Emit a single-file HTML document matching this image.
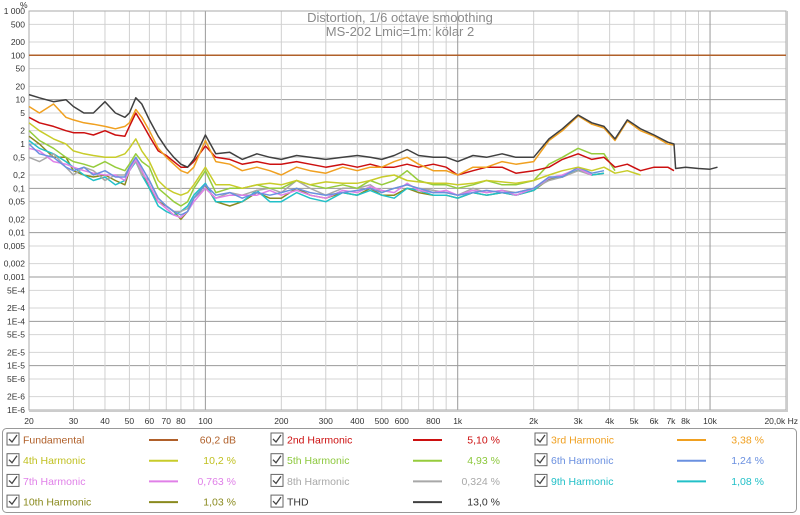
<!DOCTYPE html>
<html><head><meta charset="utf-8">
<style>
body{margin:0;background:#fff;font-family:"Liberation Sans",sans-serif;}
#wrap{position:relative;width:800px;height:515px;overflow:hidden;background:#fff}
svg text{font-family:"Liberation Sans",sans-serif}
</style></head>
<body>
<div id="wrap">
<svg id="chart" width="800" height="515" xmlns="http://www.w3.org/2000/svg"></svg>
</div>
<script>
const freqs=[20,22,25,28,30,33,36,40,44,48,50,53,56,60,65,70,75,80,85,90,100,110,125,140,160,180,200,230,260,300,350,400,450,500,560,630,700,800,900,1000,1150,1300,1500,1700,2000,2300,2600,3000,3400,3800,4200,4700,5300,6000,6800,7200,7300,8000,9000,10000,10700];
const thd=[13,11,9,10,7,5,5,9,5,4, 5,11,8,3.5,1.5,0.8,0.5,0.35,0.3,0.45, 1.6,0.6,0.65,0.45,0.6,0.5,0.45,0.55,0.5,0.45, 0.5,0.55,0.5,0.45,0.55,0.75,0.55,0.5,0.5,0.4, 0.55,0.5,0.6,0.5,0.5,1.3,2.2,4.5,3,2.5, 1.3,3.5,2.2,1.6,1.1,1,0.28,0.3,0.28,0.27,0.3];
const h2=[4,3,2.5,2,1.8,1.8,1.6,2,1.6,1.5, 2.5,5,3,1.5,0.7,0.55,0.4,0.3,0.3,0.4, 0.9,0.5,0.45,0.35,0.4,0.35,0.35,0.4,0.35,0.3, 0.35,0.3,0.35,0.3,0.3,0.35,0.3,0.35,0.3,0.2, 0.25,0.3,0.3,0.22,0.25,0.3,0.45,0.6,0.45,0.5, 0.3,0.35,0.25,0.3,0.3,0.25];
const h3=[7,5,8,4,3.5,3,2.8,2.5,2.2,2.5, 3,6,4,2,0.8,0.5,0.35,0.25,0.22,0.3, 1.2,0.4,0.35,0.25,0.3,0.25,0.2,0.3,0.25,0.22, 0.3,0.25,0.3,0.3,0.4,0.5,0.35,0.25,0.25,0.2, 0.3,0.3,0.4,0.35,0.4,1.2,2,4.3,2.8,2.3, 1.2,3.3,2,1.5,1,0.95];
const h4=[3,2,1.3,1,0.7,0.6,0.55,0.5,0.5,0.6, 0.8,1.3,0.7,0.4,0.15,0.1,0.08,0.07,0.08,0.12, 0.3,0.12,0.12,0.1,0.12,0.13,0.12,0.15,0.12,0.14, 0.13,0.13,0.15,0.18,0.2,0.15,0.14,0.13,0.13,0.12, 0.13,0.15,0.14,0.13,0.15,0.2,0.25,0.3,0.25,0.3, 0.22,0.25,0.2];
const h5=[2,1.2,0.8,0.5,0.4,0.35,0.3,0.4,0.3,0.25, 0.35,0.6,0.4,0.3,0.1,0.07,0.05,0.04,0.05,0.1, 0.25,0.08,0.1,0.1,0.12,0.1,0.1,0.15,0.12,0.1, 0.12,0.1,0.15,0.12,0.15,0.25,0.15,0.12,0.12,0.1, 0.12,0.15,0.12,0.12,0.15,0.35,0.5,0.8,0.6,0.6, 0.25];
const h6=[1,0.6,0.5,0.3,0.25,0.3,0.2,0.25,0.18,0.18, 0.3,0.5,0.3,0.15,0.06,0.04,0.03,0.025,0.03,0.06, 0.12,0.07,0.08,0.06,0.08,0.07,0.08,0.1,0.08,0.07, 0.08,0.09,0.1,0.08,0.1,0.12,0.1,0.08,0.08,0.07, 0.08,0.09,0.08,0.08,0.1,0.18,0.18,0.3,0.22,0.25];
const h7=[0.8,0.7,0.4,0.35,0.3,0.25,0.22,0.2,0.2,0.15, 0.25,0.45,0.25,0.12,0.05,0.035,0.025,0.022,0.03,0.05, 0.1,0.06,0.07,0.07,0.07,0.09,0.07,0.09,0.07,0.06, 0.09,0.08,0.11,0.09,0.08,0.13,0.09,0.08,0.09,0.07, 0.09,0.08,0.09,0.07,0.1,0.17,0.2,0.28,0.2];
const h8=[0.5,0.4,0.6,0.3,0.2,0.3,0.25,0.15,0.2,0.2, 0.3,0.4,0.2,0.15,0.06,0.04,0.03,0.03,0.035,0.06, 0.1,0.06,0.08,0.07,0.09,0.1,0.08,0.15,0.1,0.07, 0.1,0.1,0.12,0.08,0.1,0.12,0.1,0.09,0.08,0.07, 0.1,0.08,0.09,0.08,0.1,0.15,0.18,0.25,0.2];
const h9=[1.2,0.8,0.6,0.4,0.3,0.2,0.15,0.18,0.12,0.15, 0.25,0.4,0.2,0.1,0.04,0.03,0.025,0.03,0.04,0.07, 0.13,0.05,0.05,0.05,0.09,0.05,0.05,0.08,0.06,0.05, 0.08,0.07,0.09,0.07,0.06,0.1,0.09,0.07,0.07,0.06, 0.08,0.07,0.08,0.07,0.09,0.17,0.19,0.27,0.2,0.22];
const h10=[1.5,1,0.5,0.5,0.25,0.2,0.18,0.2,0.15,0.12, 0.25,0.45,0.25,0.1,0.05,0.04,0.03,0.02,0.03,0.06, 0.12,0.05,0.04,0.05,0.08,0.06,0.06,0.1,0.07,0.06, 0.08,0.07,0.1,0.07,0.07,0.1,0.08,0.07,0.07,0.06, 0.08,0.07,0.08,0.07,0.09,0.16,0.18,0.26,0.2,0.22];
const fundamental=[100,100];
const fundFreqs=[20,20000];
const yTicks=[1000,500,200,100,50,20,10,5,2,1,0.5,0.2,0.1,0.05,0.02,0.01,0.005,0.002,0.001,5e-4,2e-4,1e-4,5e-5,2e-5,1e-5,5e-6,2e-6,1e-6];
const yLabels=["1 000","500","200","100","50","20","10","5","2","1","0,5","0,2","0,1","0,05","0,02","0,01","0,005","0,002","0,001","5E-4","2E-4","1E-4","5E-5","2E-5","1E-5","5E-6","2E-6","1E-6"];
const xTicks=[20,30,40,50,60,70,80,100,200,300,400,500,600,800,1000,2000,3000,4000,5000,6000,7000,8000,10000];
const xLabels=["20","30","40","50","60","70","80","100","200","300","400","500","600","800","1k","2k","3k","4k","5k","6k","7k","8k","10k"];

const L=29,R=786,T=11,B=410;
const xs=f=>L+(Math.log10(f)-Math.log10(20))/3*(R-L);
const ys=v=>T+(3-Math.log10(v))/9*(B-T);
const NS="http://www.w3.org/2000/svg";
const svg=document.getElementById('chart');
function mk(tag,attrs,parent){const e=document.createElementNS(NS,tag);for(const k in attrs)e.setAttribute(k,attrs[k]);(parent||svg).appendChild(e);return e;}

// plot frame
const bg=mk('rect',{x:L,y:T,width:R-L,height:B-T,fill:'#fff',stroke:'#bbb'});


const grid=mk('g',{});


for(let d=1;d>=-6;d--){}
for(let e=-6;e<=3;e++){for(let m=1;m<=9;m++){const v=m*Math.pow(10,e);if(v>1000||e==3&&m>1)continue;const y=ys(v);mk('line',{x1:L,x2:R,y1:y,y2:y,stroke:m==1?'#9a9a9a':(m==2||m==5?'#d4d4d4':'none'),'stroke-width':m==1?1:1},grid);}}
for(let e=1;e<=4;e++){for(let m=1;m<=9;m++){const f=m*Math.pow(10,e);if(f<20||f>20000)continue;const x=xs(f);mk('line',{x1:x,x2:x,y1:T,y2:B,stroke:m==1?'#9a9a9a':'#d0d0d0'},grid);}}
mk('rect',{x:L,y:T,width:R-L,height:B-T,fill:'none',stroke:'#aaa'});
mk('line',{x1:R+1,x2:R+1,y1:T,y2:B+2,stroke:'#ccc','stroke-width':2});
mk('line',{x1:L,x2:R+2,y1:B+1,y2:B+1,stroke:'#ccc','stroke-width':2});

// y labels
yTicks.forEach((v,i)=>{const t=mk('text',{x:25,y:ys(v)+3,'text-anchor':'end','font-size':'8.5',fill:'#333'});t.textContent=yLabels[i];

});
const pu=mk('text',{x:20,y:8,'font-size':'8.5',fill:'#333'});pu.textContent='%';


xTicks.forEach((f,i)=>{const t=mk('text',{x:xs(f),y:424,'text-anchor':'middle','font-size':'8.5',fill:'#333'});t.textContent=xLabels[i];

});
const xu=mk('text',{x:798,y:424,'text-anchor':'end','font-size':'8.5',fill:'#333'});xu.textContent='20,0k Hz';



// title
const t1=mk('text',{x:400,y:22,'text-anchor':'middle','font-size':'13',fill:'#8a8a8a'});t1.textContent='Distortion, 1/6 octave smoothing';


const t2=mk('text',{x:400,y:36,'text-anchor':'middle','font-size':'13',fill:'#8a8a8a'});t2.textContent='MS-202 Lmic=1m: kölar 2';



function line(fs,vals,color,name){const n=Math.min(fs.length,vals.length);let d='';for(let i=0;i<n;i++){d+=(i?'L':'M')+xs(fs[i]).toFixed(1)+' '+ys(vals[i]).toFixed(1);}
const p=mk('path',{d:d,fill:'none',stroke:color,'stroke-width':1.5,'stroke-linejoin':'round'});

}
line(freqs,h10,'#8a8a1e','series-10th-harmonic');
line(freqs,h9,'#22c0c8','series-9th-harmonic');
line(freqs,h8,'#a8a8a8','series-8th-harmonic');
line(freqs,h7,'#e080e8','series-7th-harmonic');
line(freqs,h6,'#6a90e0','series-6th-harmonic');
line(freqs,h5,'#96cc3c','series-5th-harmonic');
line(freqs,h4,'#c8cc2a','series-4th-harmonic');
line(freqs,h2,'#cc1010','series-2nd-harmonic');
line(freqs,h3,'#f0a020','series-3rd-harmonic');
line(freqs,thd,'#404040','series-thd');
line(fundFreqs,fundamental,'#b0602a','series-fundamental');

// legend
const lg=mk('rect',{x:2.5,y:428.5,width:794,height:84,rx:4,fill:'#fff',stroke:'#999'});


const legendNames=['Fundamental','2nd Harmonic','3rd Harmonic','4th Harmonic','5th Harmonic','6th Harmonic','7th Harmonic','8th Harmonic','9th Harmonic','10th Harmonic','THD'];
const legendVals=['60,2 dB','5,10 %','3,38 %','10,2 %','4,93 %','1,24 %','0,763 %','0,324 %','1,08 %','1,03 %','13,0 %'];
const legendCols=['#b0602a','#cc1010','#f0a020','#c8cc2a','#96cc3c','#6a90e0','#e080e8','#a8a8a8','#22c0c8','#8a8a1e','#404040'];
const textCols=['#b0602a','#cc1010','#f0a020','#c0c020','#8cc83c','#6a90e0','#e080e8','#a8a8a8','#22c0c8','#8a8a1e','#333'];
legendNames.forEach((n,i)=>{const col=i%3,row=Math.floor(i/3);const x0=10+col*264,y0=440+row*20.7;
const g=mk('g',{});


mk('rect',{x:x0-3,y:y0-7,width:12,height:12,fill:'#fff',stroke:'#666'},g);
mk('path',{d:`M${x0-1} ${y0-1}L${x0+2} ${y0+2}L${x0+7} ${y0-5}`,fill:'none',stroke:'#444','stroke-width':1.3},g);
const tx=mk('text',{x:x0+13,y:y0+3.5,'font-size':'10.5',fill:textCols[i]},g);tx.textContent=n;
mk('line',{x1:x0+139,x2:x0+168,y1:y0,y2:y0,stroke:legendCols[i],'stroke-width':2},g);
const tv=mk('text',{x:x0+226,y:y0+3.5,'text-anchor':'end','font-size':'10.5',fill:textCols[i]},g);tv.textContent=legendVals[i];
});
</script>
</body></html>
